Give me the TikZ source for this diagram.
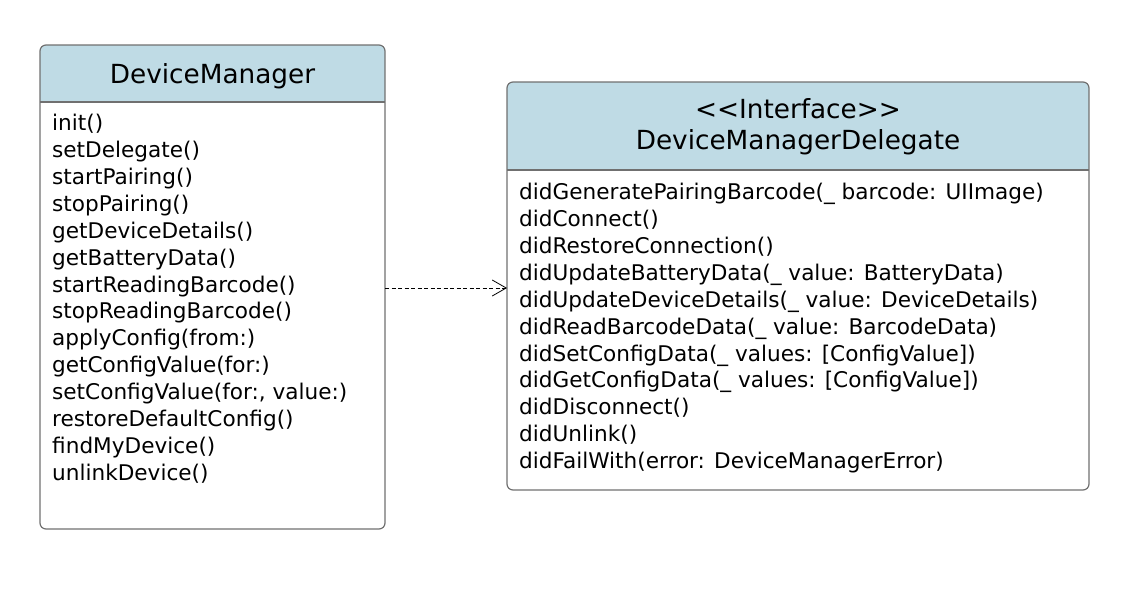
\documentclass[tikz,border=0pt]{standalone}
\usepackage{fontspec}
\setmainfont{DejaVu Sans}
\usetikzlibrary{arrows.meta}
\definecolor{hdr}{HTML}{BFDBE5}
\definecolor{frm}{HTML}{707070}
\begin{document}
\begin{tikzpicture}[x=1pt,y=-1pt,
  box/.style={draw=frm,line width=1.2pt,rounded corners=6pt},
  title/.style={font=\fontsize{26.3}{31}\selectfont,align=center},
  meth/.style={font=\fontsize{21.6}{26.9}\selectfont,align=left,anchor=north west,inner sep=0pt}]
\useasboundingbox (0,0) rectangle (1130,596);
% left class
\begin{scope}
\clip[rounded corners=6pt] (40,45) rectangle (385,529);
\fill[hdr] (40,45) rectangle (385,102);
\end{scope}
\draw[box] (40,45) rectangle (385,529);
\draw[frm,line width=1.2pt] (40,102) -- (385,102);
\node[title] (dmt) at (212.5,76) {DeviceManager};
\node[meth] (dmm) at (52,114) {init()\\setDelegate()\\startPairing()\\stopPairing()\\getDeviceDetails()\\getBatteryData()\\startReadingBarcode()\\stopReadingBarcode()\\applyConfig(from:)\\getConfigValue(for:)\\setConfigValue(for:, value:)\\restoreDefaultConfig()\\findMyDevice()\\unlinkDevice()};
% right class
\begin{scope}
\clip[rounded corners=6pt] (507,82) rectangle (1089,490);
\fill[hdr] (507,82) rectangle (1089,170);
\end{scope}
\draw[box] (507,82) rectangle (1089,490);
\draw[frm,line width=1.2pt] (507,170) -- (1089,170);
\node[title] (ddt) at (798,127) {{<}{<}Interface{>}{>}\\DeviceManagerDelegate};
\node[meth] (ddm) at (519,183) {didGeneratePairingBarcode(\_ barcode: UIImage)\\didConnect()\\didRestoreConnection()\\didUpdateBatteryData(\_ value: BatteryData)\\didUpdateDeviceDetails(\_ value: DeviceDetails)\\didReadBarcodeData(\_ value: BarcodeData)\\didSetConfigData(\_ values: [ConfigValue])\\didGetConfigData(\_ values: [ConfigValue])\\didDisconnect()\\didUnlink()\\didFailWith(error: DeviceManagerError)};
\coordinate (a) at (385,288);
\coordinate (b) at (507,288);
\draw[dashed,line width=1pt,dash pattern=on 4pt off 2.5pt,-{Straight Barb[length=14pt,width=16pt,line width=0.8pt]}] (a) -- (b);
\end{tikzpicture}
\end{document}
